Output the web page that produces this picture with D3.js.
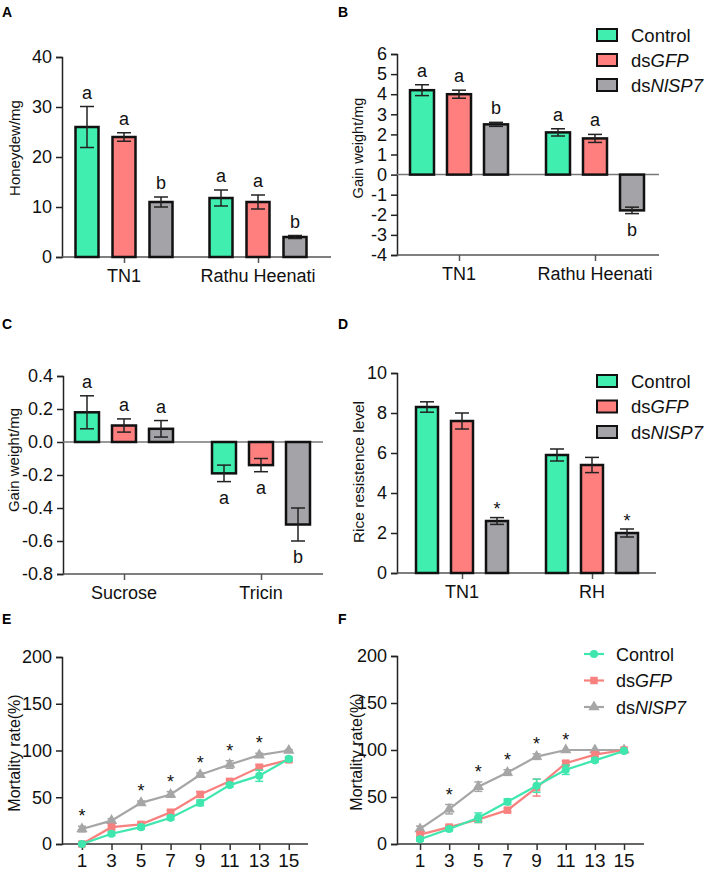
<!DOCTYPE html>
<html>
<head>
<meta charset="utf-8">
<script src="https://cdn.jsdelivr.net/npm/d3@7"></script>
<style>
  html, body { margin: 0; padding: 0; background: #fff; }
  svg { display: block; font-family: "Liberation Sans", Arial, sans-serif; }
</style>
</head>
<body>
<svg id="chart" width="708" height="872"></svg>
<script>
// ---------------- DATA ----------------
const seriesNames = ["Control", "dsGFP", "dsNlSP7"];

// Panel A: Honeydew/mg
const aCategories = ["TN1", "Rathu Heenati"];
const aControl = [26, 11.8], aControlErr = [4.1, 1.6];
const aGFP = [24, 11], aGFPErr = [0.85, 1.4];
const aNlSP7 = [11, 4], aNlSP7Err = [1, 0.3];
const aLetters = [["a", "a", "b"], ["a", "a", "b"]];
const aTicks = [0, 10, 20, 30, 40];

// Panel B: Gain weight/mg
const bCategories = ["TN1", "Rathu Heenati"];
const bControl = [4.2, 2.1], bControlErr = [0.27, 0.18];
const bGFP = [4.0, 1.8], bGFPErr = [0.2, 0.2];
const bNlSP7 = [2.5, -1.78], bNlSP7Err = [0.1, 0.16];
const bLetters = [["a", "a", "b"], ["a", "a", "b"]];
const bTicks = [-4, -3, -2, -1, 0, 1, 2, 3, 4, 5, 6];

// Panel C: Gain weight/mg
const cCategories = ["Sucrose", "Tricin"];
const cControl = [0.18, -0.19], cControlErr = [0.1, 0.05];
const cGFP = [0.1, -0.14], cGFPErr = [0.04, 0.04];
const cNlSP7 = [0.08, -0.5], cNlSP7Err = [0.05, 0.1];
const cLetters = [["a", "a", "a"], ["a", "a", "b"]];
const cTicks = [-0.8, -0.6, -0.4, -0.2, 0, 0.2, 0.4];

// Panel D: Rice resistence level
const dCategories = ["TN1", "RH"];
const dControl = [8.3, 5.9], dControlErr = [0.26, 0.3];
const dGFP = [7.6, 5.4], dGFPErr = [0.4, 0.38];
const dNlSP7 = [2.6, 2.0], dNlSP7Err = [0.17, 0.2];
const dLetters = [["", "", "*"], ["", "", "*"]];
const dTicks = [0, 2, 4, 6, 8, 10];

// Panels E & F: Mortality rate(%)
const days = [1, 3, 5, 7, 9, 11, 13, 15];
const mortTicks = [0, 50, 100, 150, 200];
const eControl = [0, 11, 18, 28, 44, 63, 73, 91];
const eControlErr = [1, 2, 2, 2, 3, 2, 6, 2];
const eGFP = [0, 18, 21, 34, 53, 67, 82, 90];
const eGFPErr = [1, 2, 2, 2, 3, 2, 3, 2];
const eNlSP7 = [16, 25, 44, 53, 74, 85, 95, 100];
const eNlSP7Err = [3, 2, 2, 3, 2, 4, 2, 1];
const eStars = ["*", "", "*", "*", "*", "*", "*", ""];

const fControl = [5, 16, 28, 45, 62, 79, 89, 99];
const fControlErr = [2, 2, 5, 3, 7, 5, 2, 1];
const fGFP = [10, 18, 26, 36, 60, 86, 95, 100];
const fGFPErr = [2, 2, 2, 2, 9, 2, 2, 1];
const fNlSP7 = [16, 37, 61, 76, 93, 100, 100, 100];
const fNlSP7Err = [3, 5, 5, 3, 3, 0, 0, 0];
const fStars = ["", "*", "*", "*", "*", "*", "", ""];

// ---------------- STYLE ----------------
const barColors = ["#40EEB0", "#FF7F7F", "#A3A3A8"];
const lineColors = ["#3FE6AE", "#F7817F", "#A6A6A6"];
const svg = d3.select("#chart");

const fmtHyphen = f => v => f(v).replace("\u2212", "-");

function panelLetter(txt, x, y) {
  svg.append("text").attr("x", x).attr("y", y)
    .attr("font-weight", "bold").attr("font-size", 14).attr("fill", "#000").text(txt);
}

function yLabel(txt, x, y, size) {
  svg.append("text").attr("transform", `translate(${x},${y}) rotate(-90)`)
    .attr("text-anchor", "middle").attr("font-size", size).attr("fill", "#111").text(txt);
}

function styleAxis(g, color, width) {
  g.selectAll("path").attr("stroke", color).attr("stroke-width", width);
  g.selectAll("line").attr("stroke", color).attr("stroke-width", width);
  g.selectAll("text").attr("fill", "#111").attr("font-family", "Liberation Sans, Arial, sans-serif");
}

function legendBars(x, y0, dy) {
  const labels = [["Control", ""], ["ds", "GFP"], ["ds", "NlSP7"]];
  labels.forEach((l, i) => {
    const cy = y0 + i * dy;
    svg.append("rect").attr("x", x).attr("y", cy - 6).attr("width", 20).attr("height", 12)
      .attr("fill", barColors[i]).attr("stroke", "#111").attr("stroke-width", 2);
    const t = svg.append("text").attr("x", x + 34).attr("y", cy + 6.5)
      .attr("font-size", 18.5).attr("fill", "#111");
    t.append("tspan").text(l[0]);
    if (l[1]) t.append("tspan").attr("font-style", "italic").text(l[1]);
  });
}

function barPanel(cfg) {
  const y = d3.scaleLinear().domain(cfg.domain).range([cfg.yBot, cfg.yTop]);
  const xg = d3.scalePoint().domain(cfg.categories).range([cfg.x0 + cfg.padL, cfg.x1 - cfg.padR]);
  const xs = d3.scalePoint().domain(seriesNames).range([-cfg.off, cfg.off]);
  const vals = [cfg.control, cfg.gfp, cfg.nlsp7];
  const errs = [cfg.controlErr, cfg.gfpErr, cfg.nlsp7Err];
  const items = [];
  cfg.categories.forEach((c, gi) => {
    seriesNames.forEach((s, si) => {
      items.push({ c, s, si, gi, v: vals[si][gi], e: errs[si][gi], lab: cfg.letters[gi][si] });
    });
  });

  // y axis
  const ya = svg.append("g").attr("transform", `translate(${cfg.x0},0)`)
    .call(d3.axisLeft(y).tickValues(cfg.ticks).tickSize(6).tickPadding(4).tickFormat(cfg.fmt));
  styleAxis(ya, "#222", 1.5);
  ya.selectAll("text").attr("font-size", 18);

  // bottom axis (category ticks)
  const xa = svg.append("g").attr("transform", `translate(0,${cfg.yBot})`)
    .call(d3.axisBottom(xg).tickSize(6).tickSizeOuter(0).tickPadding(0).tickFormat(""));
  xa.select("path").attr("d", `M${cfg.x0},0H${cfg.x1}`);
  styleAxis(xa, "#555", 1.5);
  svg.append("g").selectAll("text").data(cfg.categories).join("text")
    .attr("x", d => xg(d)).attr("y", cfg.yBot + 25).attr("text-anchor", "middle")
    .attr("font-size", 18).attr("fill", "#111").text(d => d);

  // zero line
  if (cfg.domain[0] < 0) {
    svg.append("line").attr("x1", cfg.x0).attr("x2", cfg.x1)
      .attr("y1", y(0)).attr("y2", y(0)).attr("stroke", "#777").attr("stroke-width", 1.5);
  }

  const bw = cfg.barW;
  const cx = d => xg(d.c) + xs(d.s);
  svg.append("g").selectAll("rect").data(items).join("rect")
    .attr("x", d => cx(d) - bw / 2).attr("width", bw)
    .attr("y", d => Math.min(y(d.v), y(0)))
    .attr("height", d => Math.abs(y(d.v) - y(0)))
    .attr("fill", d => barColors[d.si]).attr("stroke", "#111").attr("stroke-width", 2.5);

  // error bars
  const eg = svg.append("g").attr("stroke", "#222").attr("stroke-width", 1.5);
  const cap = 7;
  items.forEach(d => {
    eg.append("line").attr("x1", cx(d)).attr("x2", cx(d)).attr("y1", y(d.v - d.e)).attr("y2", y(d.v + d.e));
    [d.v - d.e, d.v + d.e].forEach(v => {
      eg.append("line").attr("x1", cx(d) - cap).attr("x2", cx(d) + cap).attr("y1", y(v)).attr("y2", y(v));
    });
  });

  // letters / stars
  items.forEach(d => {
    if (!d.lab) return;
    let yy;
    if (d.lab === "*") yy = y(d.v + d.e) - 2.5;
    else if (d.v >= 0) yy = y(d.v + d.e) - 8;
    else yy = y(d.v - d.e) + 22;
    svg.append("text").attr("x", cx(d)).attr("y", yy).attr("text-anchor", "middle")
      .attr("font-size", 18).attr("fill", "#111").text(d.lab);
  });
}

function linePanel(cfg) {
  const x = d3.scaleLinear().domain(cfg.xDomain).range([cfg.x0, cfg.x1]);
  const y = d3.scaleLinear().domain([0, 200]).range([cfg.yBot, cfg.yTop]);

  const ya = svg.append("g").attr("transform", `translate(${cfg.x0},0)`)
    .call(d3.axisLeft(y).tickValues(mortTicks).tickSize(6).tickPadding(4));
  styleAxis(ya, "#222", 1.5);
  ya.selectAll("text").attr("font-size", 18);

  const xa = svg.append("g").attr("transform", `translate(0,${cfg.yBot})`)
    .call(d3.axisBottom(x).tickValues(days).tickSize(6).tickSizeOuter(0).tickPadding(0).tickFormat(""));
  xa.select("path").attr("d", `M${cfg.x0},0H${cfg.x1}`);
  styleAxis(xa, "#333", 1.5);
  svg.append("g").selectAll("text").data(days).join("text")
    .attr("x", d => x(d)).attr("y", cfg.yBot + 23).attr("text-anchor", "middle")
    .attr("font-size", 19).attr("fill", "#111").text(d => d);

  const series = [
    { vals: cfg.nlsp7, errs: cfg.nlsp7Err, i: 2 },
    { vals: cfg.gfp, errs: cfg.gfpErr, i: 1 },
    { vals: cfg.control, errs: cfg.controlErr, i: 0 }
  ];
  const line = d3.line().x((d, k) => x(days[k])).y(d => y(d));
  series.forEach(s => {
    const col = lineColors[s.i];
    const g = svg.append("g");
    g.append("path").attr("d", line(s.vals)).attr("fill", "none").attr("stroke", col).attr("stroke-width", 2.2);
    s.vals.forEach((v, k) => {
      const e = s.errs[k];
      if (e > 0) {
        g.append("line").attr("x1", x(days[k])).attr("x2", x(days[k])).attr("y1", y(v - e)).attr("y2", y(v + e))
          .attr("stroke", col).attr("stroke-width", 1.5);
        [v - e, v + e].forEach(vv => g.append("line").attr("x1", x(days[k]) - 4).attr("x2", x(days[k]) + 4)
          .attr("y1", y(vv)).attr("y2", y(vv)).attr("stroke", col).attr("stroke-width", 1.5));
      }
    });
    const sym = [d3.symbolCircle, d3.symbolSquare, d3.symbolTriangle][s.i];
    const size = [52, 56, 56][s.i];
    g.selectAll("path.m").data(s.vals).join("path").attr("class", "m")
      .attr("transform", (v, k) => `translate(${x(days[k])},${y(v)})`)
      .attr("d", d3.symbol().type(sym).size(size)).attr("fill", col);
  });

  cfg.stars.forEach((st, k) => {
    if (!st) return;
    const top = Math.max(cfg.nlsp7[k] + cfg.nlsp7Err[k], cfg.control[k], cfg.gfp[k]);
    svg.append("text").attr("x", x(days[k])).attr("y", y(top) - 4).attr("text-anchor", "middle")
      .attr("font-size", 18).attr("fill", "#111").text(st);
  });
}

function legendLines(x, y0, dy) {
  const labels = [["Control", ""], ["ds", "GFP"], ["ds", "NlSP7"]];
  labels.forEach((l, i) => {
    const cy = y0 + i * dy;
    svg.append("line").attr("x1", x).attr("x2", x + 20).attr("y1", cy).attr("y2", cy)
      .attr("stroke", lineColors[i]).attr("stroke-width", 2.2);
    const sym = [d3.symbolCircle, d3.symbolSquare, d3.symbolTriangle][i];
    svg.append("path").attr("transform", `translate(${x + 10},${cy})`)
      .attr("d", d3.symbol().type(sym).size([52, 56, 56][i])).attr("fill", lineColors[i]);
    const t = svg.append("text").attr("x", x + 32).attr("y", cy + 6.5)
      .attr("font-size", 18).attr("fill", "#111");
    t.append("tspan").text(l[0]);
    if (l[1]) t.append("tspan").attr("font-style", "italic").text(l[1]);
  });
}

// ---------------- DRAW ----------------
panelLetter("A", 2, 17);
panelLetter("B", 338, 17);
panelLetter("C", 2, 329);
panelLetter("D", 338, 329);
panelLetter("E", 2, 624);
panelLetter("F", 338, 624);

barPanel({
  categories: aCategories, control: aControl, controlErr: aControlErr, gfp: aGFP, gfpErr: aGFPErr,
  nlsp7: aNlSP7, nlsp7Err: aNlSP7Err, letters: aLetters, ticks: aTicks, domain: [0, 40],
  fmt: d3.format("d"), x0: 62, x1: 331, padL: 62, padR: 73, yTop: 57, yBot: 257, off: 37, barW: 23
});
yLabel("Honeydew/mg", 20, 148, 15);

barPanel({
  categories: bCategories, control: bControl, controlErr: bControlErr, gfp: bGFP, gfpErr: bGFPErr,
  nlsp7: bNlSP7, nlsp7Err: bNlSP7Err, letters: bLetters, ticks: bTicks, domain: [-4, 6],
  fmt: fmtHyphen(d3.format("d")), x0: 397, x1: 659, padL: 62, padR: 64, yTop: 54, yBot: 255, off: 37, barW: 24
});
yLabel("Gain weight/mg", 363, 148, 14.5);
legendBars(597, 35, 25);

barPanel({
  categories: cCategories, control: cControl, controlErr: cControlErr, gfp: cGFP, gfpErr: cGFPErr,
  nlsp7: cNlSP7, nlsp7Err: cNlSP7Err, letters: cLetters, ticks: cTicks, domain: [-0.8, 0.4],
  fmt: fmtHyphen(d3.format(".1f")), x0: 63, x1: 323, padL: 61, padR: 62, yTop: 376, yBot: 574, off: 37, barW: 24
});
yLabel("Gain weight/mg", 19, 460, 15);

barPanel({
  categories: dCategories, control: dControl, controlErr: dControlErr, gfp: dGFP, gfpErr: dGFPErr,
  nlsp7: dNlSP7, nlsp7Err: dNlSP7Err, letters: dLetters, ticks: dTicks, domain: [0, 10],
  fmt: d3.format("d"), x0: 397, x1: 656, padL: 65, padR: 64, yTop: 373, yBot: 573, off: 35, barW: 22
});
yLabel("Rice resistence level", 364, 472, 15.5);
legendBars(597, 381, 25.5);

linePanel({
  control: eControl, controlErr: eControlErr, gfp: eGFP, gfpErr: eGFPErr, nlsp7: eNlSP7, nlsp7Err: eNlSP7Err,
  stars: eStars, xDomain: [-0.35, 16.3], x0: 62, x1: 308, yTop: 657, yBot: 844
});
yLabel("Mortality rate(%)", 20, 753, 16);

linePanel({
  control: fControl, controlErr: fControlErr, gfp: fGFP, gfpErr: fGFPErr, nlsp7: fNlSP7, nlsp7Err: fNlSP7Err,
  stars: fStars, xDomain: [-0.58, 16.37], x0: 397, x1: 644, yTop: 656, yBot: 844
});
yLabel("Mortality rate(%)", 362, 752, 16);
legendLines(584, 654, 26.5);
</script>
</body>
</html>
